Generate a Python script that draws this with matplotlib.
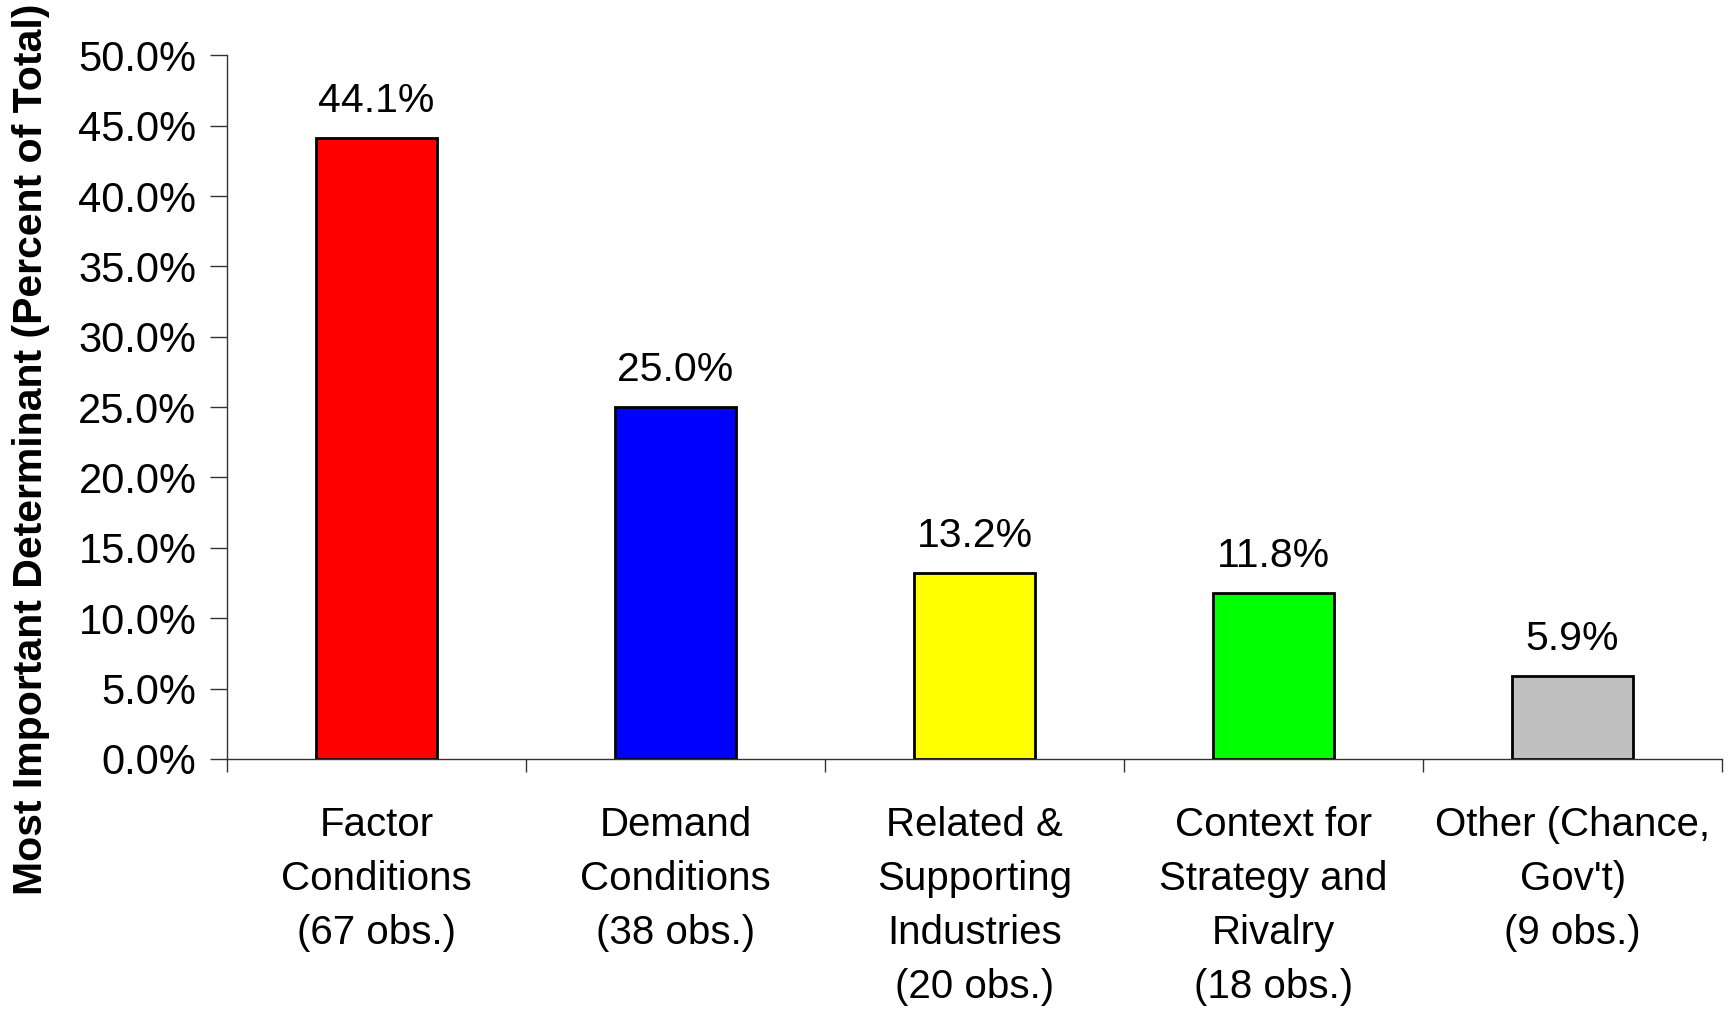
import matplotlib.pyplot as plt
from matplotlib.ticker import FuncFormatter, FixedLocator

plt.rcParams['font.family'] = ['Liberation Sans', 'DejaVu Sans']

# Data
categories = ['Factor\nConditions\n(67 obs.)',
              'Demand\nConditions\n(38 obs.)',
              'Related &\nSupporting\nIndustries\n(20 obs.)',
              'Context for\nStrategy and\nRivalry\n(18 obs.)',
              'Other (Chance,\nGov\'t)\n(9 obs.)']
values = [44.1, 25.0, 13.2, 11.8, 5.9]
colors = ['#FF0000', '#0000FF', '#FFFF00', '#00FF00', '#C0C0C0']
y_ticks = [0, 5, 10, 15, 20, 25, 30, 35, 40, 45, 50]

fig = plt.figure(figsize=(17.33, 10.11), dpi=100)
ax = fig.add_axes([0.131, 0.2493, 0.8627, 0.696])

x = list(range(len(values)))
bars = ax.bar(x, values, width=0.405, color=colors, edgecolor='black', linewidth=2)

for xi, v in zip(x, values):
    ax.annotate('%.1f%%' % v, (xi, v), xytext=(0, 13), textcoords='offset points',
                ha='center', va='bottom', fontsize=29.5)

ax.set_xlim(-0.5, len(values) - 0.5)
ax.set_ylim(0, 50)
ax.set_yticks(y_ticks)
ax.yaxis.set_major_formatter(FuncFormatter(lambda v, p: '%.1f%%' % v))

# category labels at bar centers, tick marks at category boundaries
ax.set_xticks(x)
ax.set_xticklabels(categories, fontsize=29, linespacing=1.53, va='top')
ax.xaxis.set_minor_locator(FixedLocator([i - 0.5 for i in range(len(values) + 1)]))
ax.tick_params(axis='x', which='major', length=0, pad=34)
ax.tick_params(axis='x', which='minor', length=9, width=1, color='#333333')
ax.tick_params(axis='y', length=12, width=1, color='#333333', labelsize=30, pad=10)

for s in ['top', 'right']:
    ax.spines[s].set_visible(False)
for s in ['left', 'bottom']:
    ax.spines[s].set_color('#333333')
    ax.spines[s].set_linewidth(1)

fig.text(0.018, 0.556, 'Most Important Determinant (Percent of Total)', rotation=90,
         ha='center', va='center', fontsize=29.5, fontweight='bold')

fig.savefig('out.png', dpi=100)
